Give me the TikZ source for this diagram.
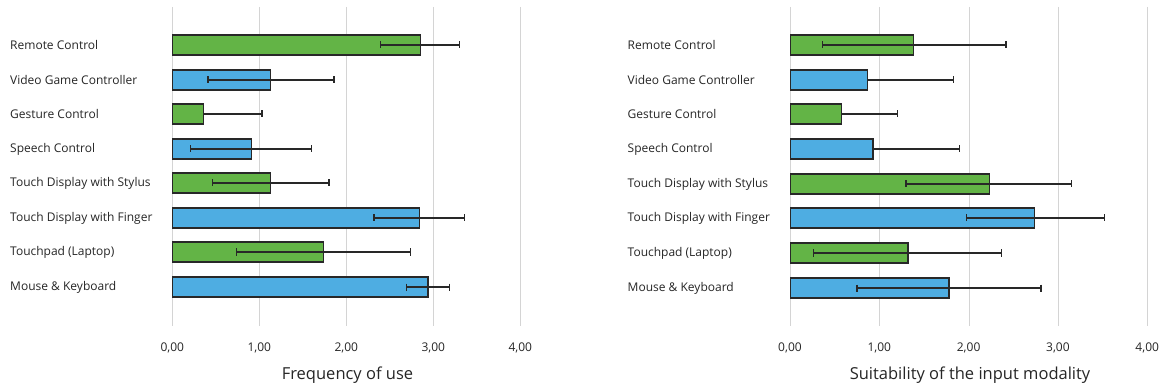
\documentclass[tikz,border=0pt]{standalone}
\usepackage{fontspec}
\setmainfont{Open Sans}
\definecolor{bargreen}{RGB}{99,180,70}
\definecolor{barblue}{RGB}{78,173,226}
\definecolor{gridgray}{RGB}{212,212,212}
\definecolor{inkgray}{RGB}{40,40,40}
\definecolor{textgray}{RGB}{38,38,38}
\tikzset{
  gridline/.style={draw=gridgray, line width=1pt},
  barbox/.style={draw=inkgray, line width=1.3pt},
  errbar/.style={draw=inkgray, line width=1.3pt},
  catlabel/.style={anchor=west, inner sep=0pt, text=textgray, font=\fontsize{12}{14}\selectfont},
  ticklabel/.style={anchor=center, inner sep=0pt, text=textgray, font=\fontsize{12}{14}\selectfont},
  axistitle/.style={anchor=center, inner sep=0pt, text=textgray, font=\fontsize{16.5}{20}\selectfont}
}
% one horizontal bar chart: #1 = prefix for node names, #2 = label x, #3 = x of the zero line,
% #4 = length of one unit, #5 = top bar centre, #6 = bar pitch, #7 = data list
\newcommand\barpanel[7]{%
  \foreach \k in {0,...,4}{
    \draw[gridline] ({round(#3+#4*\k)+0.5},7) -- ({round(#3+#4*\k)+0.5},326);
    \node[ticklabel] (#1tick\k) at ({#3+#4*\k},348) {\k,00};
  }
  \foreach \i/\lab/\col/\m/\lo/\hi in {#7}{
    \pgfmathsetmacro\yc{round(#5+#6*(\i-1))}
    \pgfmathsetmacro\xz{round(#3)+0.5}
    \pgfmathsetmacro\xm{#3+#4*\m}
    \pgfmathsetmacro\xl{#3+#4*\lo}
    \pgfmathsetmacro\xh{#3+#4*\hi}
    \pgfmathtruncatemacro\nolo{\lo<0 ? 1 : 0}
    \node[catlabel] (#1cat\i) at (#2,\yc) {\lab};
    \filldraw[barbox, fill=\col] (\xz,\yc-10) rectangle (\xm,\yc+10);
    \ifnum\nolo=1
      \draw[errbar] (\xm,\yc) -- (\xh,\yc);
    \else
      \draw[errbar] (\xl,\yc) -- (\xh,\yc);
      \draw[errbar] (\xl,\yc-3.5) -- (\xl,\yc+3.5);
    \fi
    \draw[errbar] (\xh,\yc-3.5) -- (\xh,\yc+3.5);
  }
}
\begin{document}
\begin{tikzpicture}[x=1pt, y=-1pt]
  \useasboundingbox (0,0) rectangle (1162,390);
  \fill[white] (0,0) rectangle (1162,390);

  % frequency of use
  \barpanel{l}{10}{172.3}{87}{45.3}{34.5}{
    1/Remote Control/bargreen/2.85/2.39/3.30,
    2/Video Game Controller/barblue/1.13/0.41/1.86,
    3/Gesture Control/bargreen/0.36/-0.31/1.03,
    4/Speech Control/barblue/0.91/0.21/1.60,
    5/Touch Display with Stylus/bargreen/1.13/0.46/1.80,
    6/Touch Display with Finger/barblue/2.84/2.32/3.36,
    7/{Touchpad (Laptop)}/bargreen/1.74/0.74/2.74,
    8/Mouse \& Keyboard/barblue/2.94/2.69/3.19}
  \node[axistitle] (ltitle) at (347.5,375) {Frequency of use};

  % suitability of the input modality
  \barpanel{r}{627.5}{790}{89.3}{45}{34.7}{
    1/Remote Control/bargreen/1.385/0.36/2.42,
    2/Video Game Controller/barblue/0.87/-0.09/1.83,
    3/Gesture Control/bargreen/0.58/-0.04/1.20,
    4/Speech Control/barblue/0.93/-0.04/1.90,
    5/Touch Display with Stylus/bargreen/2.23/1.30/3.15,
    6/Touch Display with Finger/barblue/2.74/1.975/3.52,
    7/{Touchpad (Laptop)}/bargreen/1.32/0.26/2.37,
    8/Mouse \& Keyboard/barblue/1.78/0.75/2.81}
  \node[axistitle] (rtitle) at (970,375) {Suitability of the input modality};
\end{tikzpicture}
\end{document}
